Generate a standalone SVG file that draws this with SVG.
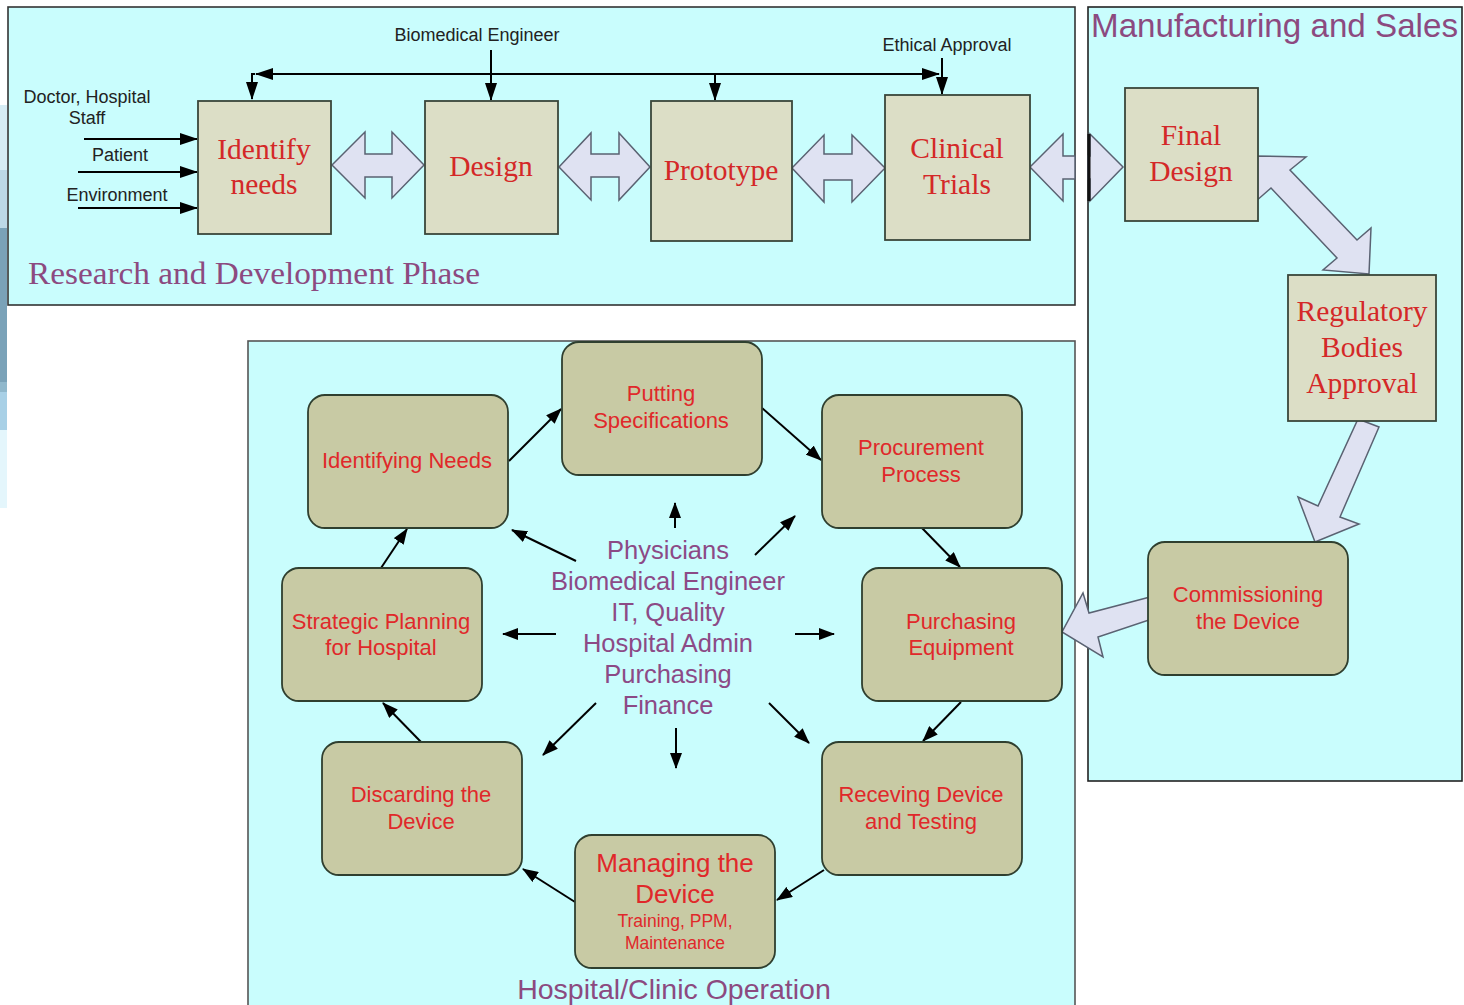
<svg xmlns="http://www.w3.org/2000/svg" width="1464" height="1005" viewBox="0 0 1464 1005">
<defs>
<marker id="ah" viewBox="0 0 18 12" refX="17" refY="6" markerWidth="18" markerHeight="12" markerUnits="userSpaceOnUse" orient="auto-start-reverse">
<path d="M0,0 L18,6 L0,12 z" fill="#000"/>
</marker>
<marker id="ahs" viewBox="0 0 16 12" refX="15" refY="6" markerWidth="16" markerHeight="12" markerUnits="userSpaceOnUse" orient="auto-start-reverse">
<path d="M0,0 L16,6 L0,12 z" fill="#000"/>
</marker>
</defs>
<style>
.panel{fill:#c9fdfd;stroke:#333;stroke-width:1.6}
.sq{fill:#dcdec6;stroke:#3a463a;stroke-width:1.8}
.rd{fill:#c8caa4;stroke:#2f3f2f;stroke-width:1.8}
.blk{fill:#dfe2f2;stroke:#5a6272;stroke-width:1.5;stroke-linejoin:miter}
.ln{stroke:#000;stroke-width:2;fill:none}
.lbl{font-family:"Liberation Sans",Arial,sans-serif;font-size:18px;fill:#222;text-anchor:middle}
.ser{font-family:"Liberation Serif","Times New Roman",serif;font-size:29.5px;fill:#d42828;text-anchor:middle}
.bt{font-family:"Liberation Sans",Arial,sans-serif;font-size:22px;fill:#e0282a;text-anchor:middle}
.big{font-size:26px}
.small{font-size:17.5px}
.ct{font-family:"Liberation Sans",Arial,sans-serif;font-size:25.5px;fill:#8c4a86;text-anchor:middle}
.title{fill:#8c4a80}
</style>
<rect x="0" y="0" width="1464" height="1005" fill="#fff"/>
<g id="edge-strip">
<rect x="0" y="105" width="7" height="65" fill="#d6ecf4"/>
<rect x="0" y="170" width="7" height="58" fill="#bcd8e6"/>
<rect x="0" y="228" width="7" height="154" fill="#7aa2b8"/>
<rect x="0" y="382" width="7" height="10" fill="#90b8cc"/>
<rect x="0" y="392" width="7" height="38" fill="#a8d0e6"/>
<rect x="0" y="430" width="7" height="78" fill="#e4f6fc"/>
</g>
<g id="panels">
<rect id="rd-panel" class="panel" x="8" y="7" width="1067" height="298"/>
<rect id="ms-panel" class="panel" x="1088" y="7" width="374" height="774" style="stroke:#222"/>
<rect id="hc-panel" class="panel" x="248" y="341" width="827" height="690" style="stroke:#555"/>
<text class="title" x="28" y="284" font-family="Liberation Sans,Arial,sans-serif" style="font-family:'Liberation Serif','Times New Roman',serif;font-size:32px" textLength="452" lengthAdjust="spacingAndGlyphs">Research and Development Phase</text>
<text class="title" x="1091" y="37" style="font-family:'Liberation Sans',Arial,sans-serif;font-size:33px" textLength="367" lengthAdjust="spacingAndGlyphs">Manufacturing and Sales</text>
<text class="title" x="674" y="999" style="font-family:'Liberation Sans',Arial,sans-serif;font-size:28.5px;text-anchor:middle">Hospital/Clinic Operation</text>
</g>
<g id="connectors">
<path class="ln" d="M256,74 H939" marker-start="url(#ah)" marker-end="url(#ah)"/>
<path class="ln" d="M255,74 H252 V99" marker-end="url(#ah)"/>
<line class="ln" x1="491" y1="50" x2="491" y2="100" marker-end="url(#ah)"/>
<line class="ln" x1="715" y1="74" x2="715" y2="100" marker-end="url(#ah)"/>
<line class="ln" x1="942" y1="58" x2="942" y2="94" marker-end="url(#ah)"/>
<line class="ln" x1="84" y1="139" x2="197" y2="139" marker-end="url(#ah)"/>
<line class="ln" x1="78" y1="172" x2="197" y2="172" marker-end="url(#ah)"/>
<line class="ln" x1="78" y1="208" x2="197" y2="208" marker-end="url(#ah)"/>
<polygon class="blk" points="332,165 365,132 365,154 392,154 392,132 424,165 392,198 392,177 365,177 365,198"/>
<polygon class="blk" points="559,167 591,133 591,154 619,154 619,133 650,167 619,200 619,177 591,177 591,200"/>
<polygon class="blk" points="792,168 824,135 824,154 852,154 852,135 885,168 852,202 852,180 824,180 824,202"/>
<polygon class="blk" points="1030,167 1063,134 1063,156 1075,156 1075,179 1063,179 1063,201"/>
<polygon class="blk" points="1088,156 1090,156 1090,134 1123,167 1090,201 1090,179 1088,179"/>
<line x1="1089" y1="134" x2="1089" y2="201" stroke="#111" stroke-width="3"/>
<polygon class="blk" points="1254,156 1306,157 1290,170 1357,240 1371,228 1369,274 1323,270 1337,258 1271,188 1255,202"/>
<polygon class="blk" points="1358,419 1379,427 1340,517 1359,524 1315,542 1298,497 1318,506"/>
<polygon class="blk" points="1150,597 1089,613 1083,593 1062,632 1103,657 1098,637 1152,619"/>
<line class="ln" x1="509" y1="461" x2="561" y2="409" marker-end="url(#ahs)"/>
<line class="ln" x1="762" y1="408" x2="821" y2="460" marker-end="url(#ahs)"/>
<line class="ln" x1="922" y1="528" x2="960" y2="567" marker-end="url(#ahs)"/>
<line class="ln" x1="961" y1="702" x2="923" y2="741" marker-end="url(#ahs)"/>
<line class="ln" x1="824" y1="870" x2="777" y2="900" marker-end="url(#ahs)"/>
<line class="ln" x1="575" y1="902" x2="523" y2="869" marker-end="url(#ahs)"/>
<line class="ln" x1="421" y1="742" x2="383" y2="703" marker-end="url(#ahs)"/>
<line class="ln" x1="381" y1="568" x2="407" y2="529" marker-end="url(#ahs)"/>
<line class="ln" x1="675" y1="528" x2="675" y2="503" marker-end="url(#ahs)"/>
<line class="ln" x1="755" y1="555" x2="795" y2="516" marker-end="url(#ahs)"/>
<line class="ln" x1="576" y1="561" x2="512" y2="530" marker-end="url(#ahs)"/>
<line class="ln" x1="556" y1="634" x2="503" y2="634" marker-end="url(#ahs)"/>
<line class="ln" x1="795" y1="634" x2="834" y2="634" marker-end="url(#ahs)"/>
<line class="ln" x1="596" y1="703" x2="543" y2="755" marker-end="url(#ahs)"/>
<line class="ln" x1="676" y1="728" x2="676" y2="768" marker-end="url(#ahs)"/>
<line class="ln" x1="769" y1="703" x2="809" y2="743" marker-end="url(#ahs)"/>
</g>
<g id="input-labels">
<text class="lbl" x="87" y="103">Doctor, Hospital</text>
<text class="lbl" x="87" y="124">Staff</text>
<text class="lbl" x="120" y="161">Patient</text>
<text class="lbl" x="117" y="201">Environment</text>
<text class="lbl" x="477" y="41">Biomedical Engineer</text>
<text class="lbl" x="947" y="51">Ethical Approval</text>
</g>
<g id="identify-needs"><rect class="sq" x="198" y="101" width="133" height="133"/><text class="ser" x="264" y="159">Identify</text><text class="ser" x="264" y="194">needs</text></g>
<g id="design"><rect class="sq" x="425" y="101" width="133" height="133"/><text class="ser" x="491" y="176">Design</text></g>
<g id="prototype"><rect class="sq" x="651" y="101" width="141" height="140"/><text class="ser" x="721" y="180">Prototype</text></g>
<g id="clinical-trials"><rect class="sq" x="885" y="95" width="145" height="145"/><text class="ser" x="957" y="158">Clinical</text><text class="ser" x="957" y="194">Trials</text></g>
<g id="final-design"><rect class="sq" x="1125" y="88" width="133" height="133"/><text class="ser" x="1191" y="145">Final</text><text class="ser" x="1191" y="181">Design</text></g>
<g id="regulatory"><rect class="sq" x="1288" y="275" width="148" height="146"/><text class="ser" x="1362" y="321">Regulatory</text><text class="ser" x="1362" y="357">Bodies</text><text class="ser" x="1362" y="393">Approval</text></g>
<g id="commissioning"><rect class="rd" x="1148" y="542" width="200" height="133" rx="17"/><text class="bt" x="1248" y="602">Commissioning</text><text class="bt" x="1248" y="629">the Device</text></g>
<g id="identifying-needs"><rect class="rd" x="308" y="395" width="200" height="133" rx="17"/><text class="bt" x="407" y="468">Identifying Needs</text></g>
<g id="putting-spec"><rect class="rd" x="562" y="342" width="200" height="133" rx="17"/><text class="bt" x="661" y="401">Putting</text><text class="bt" x="661" y="428">Specifications</text></g>
<g id="procurement"><rect class="rd" x="822" y="395" width="200" height="133" rx="17"/><text class="bt" x="921" y="455">Procurement</text><text class="bt" x="921" y="482">Process</text></g>
<g id="strategic"><rect class="rd" x="282" y="568" width="200" height="133" rx="17"/><text class="bt" x="381" y="629">Strategic Planning</text><text class="bt" x="381" y="655">for Hospital</text></g>
<g id="purchasing"><rect class="rd" x="862" y="568" width="200" height="133" rx="17"/><text class="bt" x="961" y="629">Purchasing</text><text class="bt" x="961" y="655">Equipment</text></g>
<g id="discarding"><rect class="rd" x="322" y="742" width="200" height="133" rx="17"/><text class="bt" x="421" y="802">Discarding the</text><text class="bt" x="421" y="829">Device</text></g>
<g id="receiving"><rect class="rd" x="822" y="742" width="200" height="133" rx="17"/><text class="bt" x="921" y="802">Receving Device</text><text class="bt" x="921" y="829">and Testing</text></g>
<g id="managing"><rect class="rd" x="575" y="835" width="200" height="133" rx="17"/><text class="bt big" x="675" y="872">Managing the</text><text class="bt big" x="675" y="903">Device</text><text class="bt small" x="675" y="927">Training, PPM,</text><text class="bt small" x="675" y="949">Maintenance</text></g>
<g id="stakeholders">
<text class="ct" x="668" y="559">Physicians</text>
<text class="ct" x="668" y="590">Biomedical Engineer</text>
<text class="ct" x="668" y="621">IT, Quality</text>
<text class="ct" x="668" y="652">Hospital Admin</text>
<text class="ct" x="668" y="683">Purchasing</text>
<text class="ct" x="668" y="714">Finance</text>
</g>
</svg>
